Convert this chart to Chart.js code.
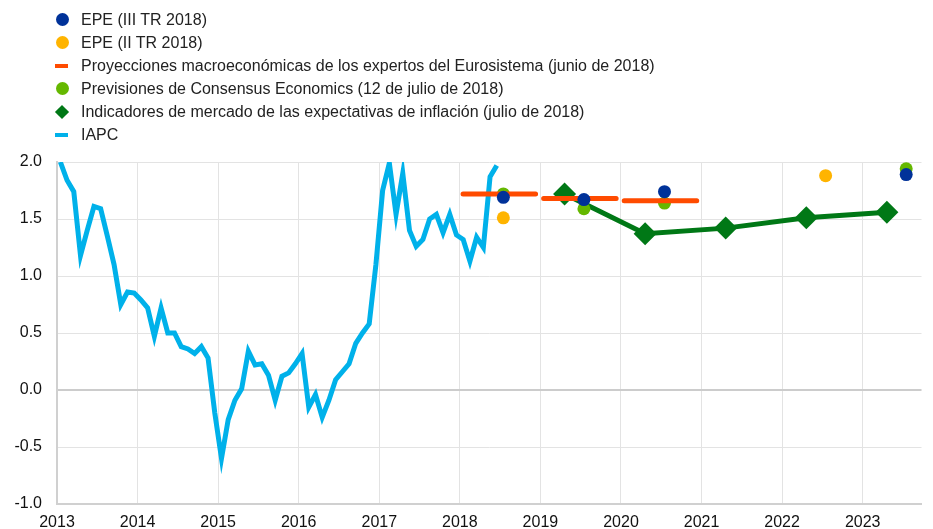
<!DOCTYPE html>
<html>
<head>
<meta charset="utf-8">
<script src="https://cdn.jsdelivr.net/npm/chart.js@4"></script>
<style>
  html, body { margin: 0; padding: 0; background: #fff; }
  #wrap { position: relative; width: 933px; height: 529px; }
  #legend { position: absolute; left: 0; top: 8px; font-family: "Liberation Sans", Arial, sans-serif; font-size: 16px; color: #222; }
  .row { position: relative; height: 23px; line-height: 23px; padding-left: 81px; white-space: nowrap; }
  .mk { position: absolute; top: 50%; }
  .dot { width: 13px; height: 13px; border-radius: 50%; left: 55.5px; margin-top: -6.5px; }
  .bar { width: 13px; height: 4px; left: 55px; margin-top: -2px; }
  .dia { width: 10px; height: 10px; left: 57px; margin-top: -5px; transform: rotate(45deg); }
</style>
</head>
<body>
<div id="wrap">
  <canvas id="chart" width="933" height="529"></canvas>
  <div id="legend"></div>
</div>
<script>
// ===== DATA =====
const xTicks = [2013, 2014, 2015, 2016, 2017, 2018, 2019, 2020, 2021, 2022, 2023];
const yTicks = [-1.0, -0.5, 0.0, 0.5, 1.0, 1.5, 2.0];

// IAPC, monthly from Jan 2013 to Jun 2018
const iapcStartYear = 2013;
const iapcValues = [
  2.00, 1.84, 1.74, 1.18, 1.40, 1.61, 1.59, 1.35, 1.10, 0.75, 0.86, 0.85,
  0.79, 0.72, 0.47, 0.72, 0.50, 0.50, 0.38, 0.36, 0.32, 0.38, 0.28, -0.20,
  -0.60, -0.26, -0.09, 0.01, 0.34, 0.22, 0.23, 0.13, -0.09, 0.12, 0.15, 0.23,
  0.32, -0.15, -0.04, -0.24, -0.09, 0.09, 0.16, 0.23, 0.41, 0.50, 0.58, 1.10,
  1.75, 1.99, 1.54, 1.90, 1.40, 1.26, 1.32, 1.50, 1.54, 1.38, 1.54, 1.36,
  1.32, 1.13, 1.34, 1.25, 1.87, 1.97
];

// Eurosystem staff projections (June 2018), one value per year
const projYears  = [2018, 2019, 2020];
const projValues = [1.72, 1.68, 1.66];

// SPF rounds, plotted mid-year
const epe3Dates  = [2018.54, 2019.54, 2020.54, 2023.54];
const epe3Values = [1.69, 1.67, 1.74, 1.89];
const epe2Dates  = [2018.54, 2022.54];
const epe2Values = [1.51, 1.88];

// Consensus Economics (12 July 2018)
const consDates  = [2018.54, 2019.54, 2020.54, 2023.54];
const consValues = [1.72, 1.59, 1.64, 1.94];

// Market-based inflation expectations (July 2018)
const mktDates  = [2019.3, 2020.3, 2021.3, 2022.3, 2023.3];
const mktValues = [1.72, 1.37, 1.42, 1.51, 1.56];

const COLORS = {
  epe3: "#003299",
  epe2: "#FFB400",
  proj: "#FF4B00",
  cons: "#65B800",
  mkt:  "#007816",
  iapc: "#00B1EA"
};

const zip = (xs, ys) => xs.map((x, i) => ({ x, y: ys[i] }));

const iapcPoints = iapcValues.map((v, i) => ({ x: iapcStartYear + (i + 0.5) / 12, y: v }));

const projPoints = [];
projYears.forEach((yr, i) => {
  projPoints.push({ x: yr + 0.04, y: projValues[i] });
  projPoints.push({ x: yr + 0.94, y: projValues[i] });
  projPoints.push({ x: yr + 0.99, y: null });
});

// ===== LEGEND (HTML) =====
const legendItems = [
  { text: "EPE (III TR 2018)", cls: "dot", color: COLORS.epe3 },
  { text: "EPE (II TR 2018)", cls: "dot", color: COLORS.epe2 },
  { text: "Proyecciones macroeconómicas de los expertos del Eurosistema (junio de 2018)", cls: "bar", color: COLORS.proj },
  { text: "Previsiones de Consensus Economics (12 de julio de 2018)", cls: "dot", color: COLORS.cons },
  { text: "Indicadores de mercado de las expectativas de inflación (julio de 2018)", cls: "dia", color: COLORS.mkt },
  { text: "IAPC", cls: "bar", color: COLORS.iapc }
];
const legendEl = document.getElementById("legend");
legendItems.forEach(item => {
  const row = document.createElement("div");
  row.className = "row";
  const mk = document.createElement("span");
  mk.className = "mk " + item.cls;
  mk.style.background = item.color;
  row.appendChild(mk);
  row.appendChild(document.createTextNode(item.text));
  legendEl.appendChild(row);
});

// ===== CHART =====
const tickFont = { family: "'Liberation Sans', Arial, sans-serif", size: 16 };

new Chart(document.getElementById("chart"), {
  type: "line",
  data: {
    datasets: [
      {
        label: "EPE (III TR 2018)",
        data: zip(epe3Dates, epe3Values),
        showLine: false,
        pointRadius: 6.5,
        pointBorderWidth: 0,
        pointBackgroundColor: COLORS.epe3,
        borderColor: COLORS.epe3
      },
      {
        label: "EPE (II TR 2018)",
        data: zip(epe2Dates, epe2Values),
        showLine: false,
        pointRadius: 6.5,
        pointBorderWidth: 0,
        pointBackgroundColor: COLORS.epe2,
        borderColor: COLORS.epe2
      },
      {
        label: "Proyecciones",
        data: projPoints,
        borderColor: COLORS.proj,
        borderWidth: 5,
        borderCapStyle: "round",
        pointRadius: 0,
        spanGaps: false
      },
      {
        label: "Consensus",
        data: zip(consDates, consValues),
        showLine: false,
        pointRadius: 6.5,
        pointBorderWidth: 0,
        pointBackgroundColor: COLORS.cons,
        borderColor: COLORS.cons
      },
      {
        label: "Indicadores de mercado",
        data: zip(mktDates, mktValues),
        borderColor: COLORS.mkt,
        borderWidth: 5,
        pointStyle: "rectRot",
        pointRadius: 11.5,
        pointBorderWidth: 0,
        pointBackgroundColor: COLORS.mkt
      },
      {
        label: "IAPC",
        data: iapcPoints,
        borderColor: COLORS.iapc,
        borderWidth: 5,
        borderJoinStyle: "miter",
        pointRadius: 0
      }
    ]
  },
  options: {
    responsive: false,
    animation: false,
    layout: { padding: { top: 162, right: 0, left: 0, bottom: 0 } },
    plugins: {
      legend: { display: false },
      tooltip: { enabled: false }
    },
    scales: {
      x: {
        type: "linear",
        min: 2013,
        max: 2023.73,
        afterBuildTicks: s => { s.ticks = xTicks.map(v => ({ value: v })); },
        afterFit: s => { s.height = 25; },
        ticks: { color: "#111", font: tickFont, padding: 9, maxRotation: 0, callback: v => String(v) },
        grid: { color: "#e3e3e3", lineWidth: 1, drawTicks: false },
        border: { display: true, color: "#d0d0d0", width: 2 }
      },
      y: {
        min: -1,
        max: 2,
        afterBuildTicks: s => { s.ticks = yTicks.map(v => ({ value: v })); },
        afterFit: s => { s.width = 57; },
        ticks: { color: "#111", font: tickFont, padding: 15, callback: v => v.toFixed(1) },
        grid: {
          drawTicks: false,
          color: ctx => ctx.tick && ctx.tick.value === 0 ? "#cccccc" : "#e3e3e3",
          lineWidth: ctx => ctx.tick && ctx.tick.value === 0 ? 2 : 1
        },
        border: { display: true, color: "#d0d0d0", width: 2 }
      }
    }
  }
});
</script>
</body>
</html>
